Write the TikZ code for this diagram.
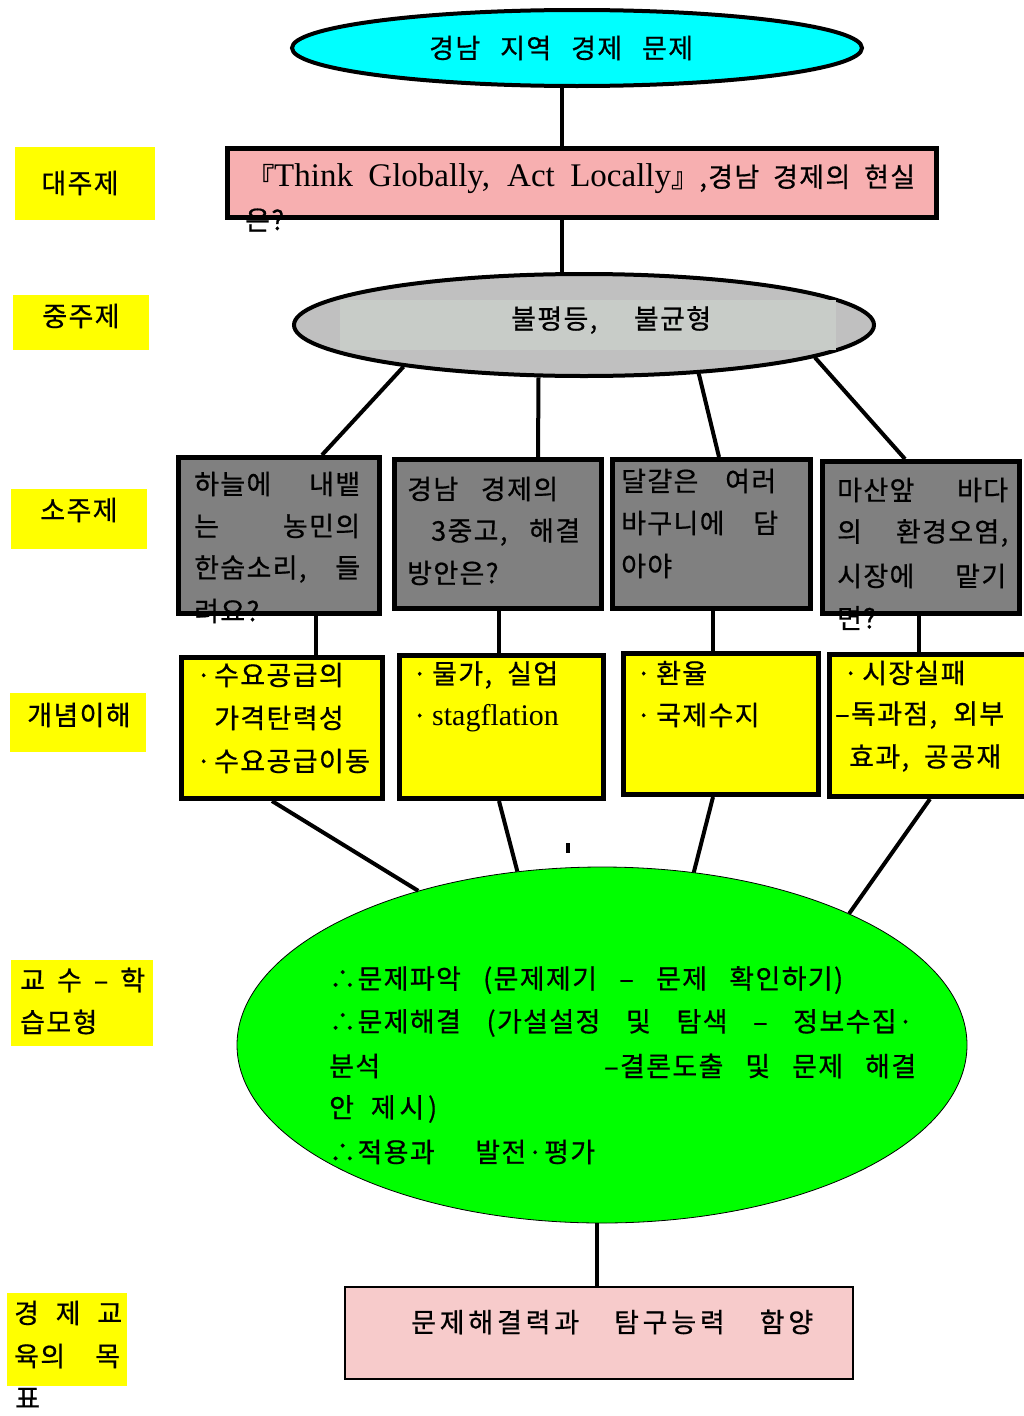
\documentclass[tikz,border=0pt]{standalone}
\usepackage{fontspec}
\setmainfont{Liberation Serif}
\newfontfamily\kr[LetterSpace=5,FakeBold=0.6]{Noto Sans CJK KR}
\newfontfamily\krw[LetterSpace=14,FakeBold=0.6]{Noto Sans CJK KR}
\usetikzlibrary{shapes.geometric}
\definecolor{pinkA}{RGB}{247,175,176}
\definecolor{pinkB}{RGB}{247,203,203}
\definecolor{grayE}{RGB}{192,192,192}
\definecolor{grayI}{RGB}{200,204,200}
\definecolor{grayB}{RGB}{128,128,128}
\definecolor{yel}{RGB}{255,255,0}
\definecolor{grn}{RGB}{0,255,0}
\definecolor{cyn}{RGB}{0,255,255}
\begin{document}
\begin{tikzpicture}[x=1pt,y=-1pt,
  kt/.style={inner sep=0pt, anchor=west, font=\kr\fontsize{27}{30}\selectfont},
  kw/.style={inner sep=0pt, anchor=west, font=\krw\fontsize{27}{30}\selectfont},
  ct/.style={kt, anchor=center},
  conn/.style={line width=4pt},
  thickbox/.style={rectangle, draw=black, line width=5pt, inner sep=0pt},
  graybox/.style={thickbox, fill=grayB},
  yelbox/.style={thickbox, fill=yel},
  label/.style={rectangle, fill=yel, inner sep=0pt}]
\fill[white] (0,0) rectangle (1024,1416);
\useasboundingbox (0,0) rectangle (1024,1416);

% left labels
\node[label, minimum width=140, minimum height=73] (L1) at (85,183.5) {};
\node[label, minimum width=136, minimum height=55] (L2) at (81,322.5) {};
\node[label, minimum width=136, minimum height=60] (L3) at (79,519) {};
\node[label, minimum width=136, minimum height=59] (L4) at (78,722.5) {};
\node[label, minimum width=142, minimum height=86] (L5) at (82,1003) {};
\node[label, minimum width=120, minimum height=93] (L6) at (67,1339.5) {};
\node[ct] (l1t) at (80,183) {대주제};
\node[ct] (l2t) at (81,316) {중주제};
\node[ct] (l3t) at (79,510) {소주제};
\node[ct] (l4t) at (79,715) {개념이해};
\node[kt] (l5a) at (20,980) {\makebox[125pt][s]{교 수 – 학}};
\node[kt] (l5b) at (20,1022) {습모형};
\node[kt] (l6a) at (14,1313) {\makebox[108pt][s]{경 제 교}};
\node[kt] (l6b) at (14,1356) {\makebox[106pt][s]{육의 목}};
\node[kt] (l6c) at (15,1398) {표};

% main shapes
\node[ellipse, draw=black, line width=4pt, fill=cyn, minimum width=570, minimum height=76, inner sep=0pt] (top) at (577,48) {};
\node[kt] (topt) at (429,48) {\makebox[264pt][s]{경남 지역 경제 문제}};

\node[thickbox, fill=pinkA, minimum width=709, minimum height=69] (main) at (582,183) {};
\node[inner sep=0pt, anchor=west] (maint) at (247,179) {\makebox[668pt][s]{{\kr\fontsize{27}{30}\selectfont 『}{\fontsize{33}{36}\selectfont Think Globally, Act Locally}{\kr\fontsize{27}{30}\selectfont 』,경남 경제의 현실}}};
\node[kt] (maint2) at (245,220) {은?};

\node[ellipse, draw=black, line width=4pt, fill=grayE, minimum width=580, minimum height=102, inner sep=0pt] (mid) at (584,325) {};
\fill[grayI] (340,300) rectangle (836,350);
\node[kt] (midt) at (511,320) {\makebox[200pt][s]{불평등, 불균형}};

% sub-topic boxes
\node[graybox, minimum width=201, minimum height=156] (b1) at (279,535.5) {};
\node[graybox, minimum width=207, minimum height=149] (b2) at (498,534) {};
\node[graybox, minimum width=198, minimum height=149] (b3) at (711.5,534) {};
\node[graybox, minimum width=197, minimum height=152] (b4) at (921,537.5) {};

\node[kt] (b1a) at (194,484) {\makebox[166pt][s]{하늘에 내뱉}};
\node[kt] (b1b) at (194,526) {\makebox[166pt][s]{는 농민의}};
\node[kt] (b1c) at (194,569) {\makebox[166pt][s]{한숨소리, 들}};
\node[kt] (b1d) at (194,611) {려요?};

\node[kt] (b2a) at (407,489) {\makebox[151pt][s]{경남 경제의}};
\node[kt] (b2b) at (431,532) {\makebox[149pt][s]{3중고, 해결}};
\node[kt] (b2c) at (407,573) {방안은?};

\node[kt] (b3a) at (621,481) {\makebox[155pt][s]{달걀은 여러}};
\node[kt] (b3b) at (621,523) {\makebox[157pt][s]{바구니에 담}};
\node[kt] (b3c) at (621,566) {아야};

\node[kt] (b4a) at (837,490) {\makebox[171pt][s]{마산앞 바다}};
\node[kt] (b4b) at (837,533) {\makebox[171pt][s]{의 환경오염,}};
\node[kt] (b4c) at (837,576) {\makebox[169pt][s]{시장에 맡기}};
\node[kt] (b4d) at (837,618) {면?};

% concept boxes
\node[yelbox, minimum width=201, minimum height=141] (y1) at (282,728) {};
\node[yelbox, minimum width=204, minimum height=143] (y2) at (501.5,727) {};
\node[yelbox, minimum width=195, minimum height=141] (y3) at (721,724) {};
\node[yelbox, minimum width=203, minimum height=142] (y4) at (931,725.5) {};

\node[kt] (y1a) at (196,675) {\makebox[18pt][l]{·}수요공급의};
\node[kt] (y1b) at (214,718) {가격탄력성};
\node[kt] (y1c) at (196,761) {\makebox[18pt][l]{·}수요공급이동};

\node[kt] (y2a) at (412,675) {\makebox[20pt][l]{·}\makebox[126pt][s]{물가, 실업}};
\node[kt] (y2b) at (412,718) {\makebox[20pt][l]{·}{\rmfamily\fontsize{30}{34}\selectfont stagflation}};

\node[kt] (y3a) at (636,673) {\makebox[20pt][l]{·}환율};
\node[kt] (y3b) at (636,715) {\makebox[20pt][l]{·}국제수지};

\node[kt] (y4a) at (843,673) {\makebox[19pt][l]{·}시장실패};
\node[kt] (y4b) at (835,715) {\makebox[169pt][s]{–독과점, 외부}};
\node[kt] (y4c) at (849,758) {\makebox[152pt][s]{효과, 공공재}};

% teaching model
\node[ellipse, draw=black, line width=0.8pt, fill=grn, minimum width=730, minimum height=356, inner sep=0pt] (gr) at (602,1045) {};
\node[kt] (g1) at (329,980) {\makebox[514pt][s]{∴문제파악 (문제제기 – 문제 확인하기)}};
\node[kt] (g2) at (329,1023) {\makebox[584pt][s]{∴문제해결 (가설설정 및 탐색 – 정보수집·}};
\node[kt] (g3a) at (329,1066) {분석};
\node[kt] (g3b) at (604,1066) {\makebox[312pt][s]{–결론도출 및 문제 해결}};
\node[kw] (g4) at (329,1109) {\makebox[108pt][s]{안 제시)}};
\node[kt] (g5) at (329,1152) {\makebox[266pt][s]{∴적용과 발전·평가}};

% goal
\node[rectangle, draw=black, line width=1.2pt, fill=pinkB, minimum width=508, minimum height=92, inner sep=0pt] (bot) at (599,1333) {};
\node[kw] (bott) at (411,1322) {\makebox[402pt][s]{문제해결력과 탐구능력 함양}};

% x positions of connectors
\coordinate (x562) at (562,0);
\coordinate (x322) at (322,0);
\coordinate (x538) at (538,0);
\coordinate (x719) at (719,0);
\coordinate (x905) at (905,0);
\coordinate (x316) at (316,0);
\coordinate (x499) at (499,0);
\coordinate (x713) at (713,0);
\coordinate (x919) at (919,0);
\coordinate (x272) at (272,0);
\coordinate (x930) at (930,0);
\coordinate (x597) at (597,0);

\draw[conn] (top.south -| x562) -- (main.north -| x562);
\draw[conn] (main.south -| x562) -- (mid.north -| x562);
\draw[conn] (mid.193) -- (b1.north -| x322);
\draw[conn] (mid.229) -- (b2.north -| x538);
\draw[conn] (mid.337) -- (b3.north -| x719);
\draw[conn] (mid.352) -- (b4.north -| x905);
\draw[conn] (b1.south -| x316) -- (y1.north -| x316);
\draw[conn] (b2.south -| x499) -- (y2.north -| x499);
\draw[conn] (b3.south -| x713) -- (y3.north -| x713);
\draw[conn] (b4.south -| x919) -- (y4.north -| x919);
\draw[conn] (y1.south -| x272) -- (gr.140.6);
\draw[conn] (y2.south -| x499) -- (gr.116.4);
\draw[conn] (y3.south -| x713) -- (gr.62.3);
\draw[conn] (y4.south -| x930) -- (gr.28.2);
\draw[conn] (gr.south -| x597) -- (bot.north -| x597);
\fill[black] (566,843) rectangle (570,853);
\end{tikzpicture}
\end{document}
